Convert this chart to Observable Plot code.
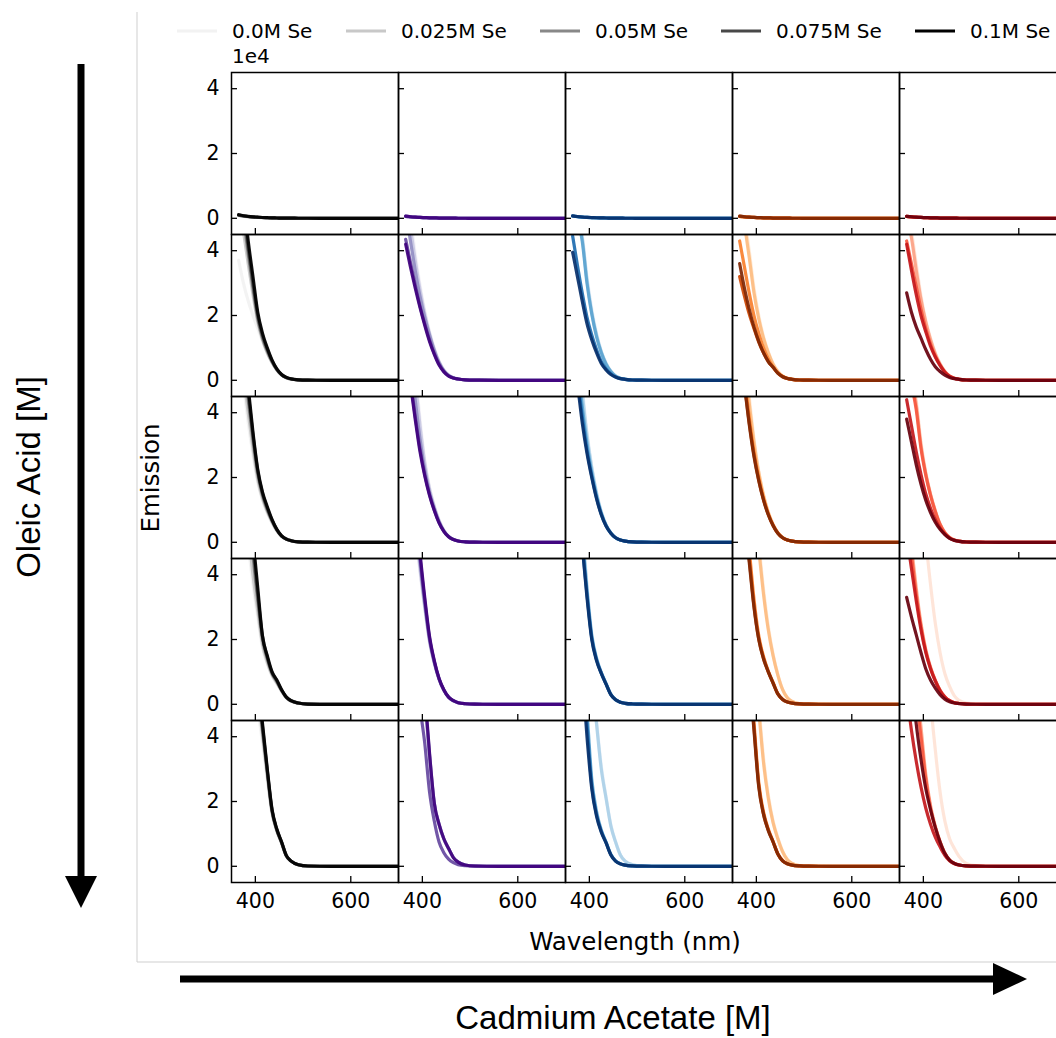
<!DOCTYPE html>
<html>
<head>
<meta charset="utf-8">
<script src="https://cdn.jsdelivr.net/npm/d3@7"></script>
<script src="https://cdn.jsdelivr.net/npm/@observablehq/plot@0.6"></script>
<style>
  html, body { margin: 0; padding: 0; background: #fff; overflow: hidden; }
  #page { position: relative; width: 1056px; height: 1038px; overflow: hidden; font-family: "DejaVu Sans", sans-serif; color: #000; }
  #page > * { position: absolute; }
  .lbl { white-space: nowrap; line-height: 1; }
  .rot { transform: translate(-50%, -50%) rotate(-90deg); }
  .ctr { transform: translate(-50%, -50%); }
  .leg { display: flex; align-items: center; font-size: 20px; white-space: nowrap; }
</style>
</head>
<body>
<div id="page"></div>
<script>
// ---------------- data ----------------
const wavelength = [365, 375, 385, 395, 405, 415, 425, 435, 445, 455, 465, 475, 490, 510, 560, 700];
const seLevels = ["0.0M Se", "0.025M Se", "0.05M Se", "0.075M Se", "0.1M Se"];
const cadmiumAcetate = ["Cd 1", "Cd 2", "Cd 3", "Cd 4", "Cd 5"];
const oleicAcid = ["OA 1", "OA 2", "OA 3", "OA 4", "OA 5"];
const yTicks = [0, 2, 4];
const xTicks = [400, 600];

// Emission (units of 1e4); per row: [Cd column][Se level][wavelength]
const emissionOA1 = [
  [[0.08,0.06,0.045,0.035,0.027,0.02,0.015,0.011,0.008,0.006,0.004,0.003,0.002,0.001,0,0],
   [0.09,0.065,0.05,0.038,0.029,0.022,0.016,0.012,0.009,0.006,0.004,0.003,0.002,0.001,0,0],
   [0.1,0.07,0.053,0.04,0.03,0.023,0.017,0.012,0.009,0.006,0.004,0.003,0.002,0.001,0,0],
   [0.1,0.075,0.055,0.042,0.032,0.024,0.018,0.013,0.009,0.006,0.004,0.003,0.002,0.001,0,0],
   [0.11,0.08,0.06,0.045,0.034,0.025,0.018,0.013,0.009,0.006,0.004,0.003,0.002,0.001,0,0]],
  [[0.05,0.04,0.03,0.024,0.019,0.015,0.011,0.008,0.006,0.004,0.003,0.002,0.001,0,0,0],
   [0.055,0.042,0.032,0.025,0.02,0.015,0.011,0.008,0.006,0.004,0.003,0.002,0.001,0,0,0],
   [0.06,0.045,0.034,0.026,0.02,0.015,0.011,0.008,0.006,0.004,0.003,0.002,0.001,0,0,0],
   [0.06,0.046,0.035,0.027,0.021,0.016,0.012,0.008,0.006,0.004,0.003,0.002,0.001,0,0,0],
   [0.065,0.048,0.036,0.028,0.021,0.016,0.012,0.008,0.006,0.004,0.003,0.002,0.001,0,0,0]],
  [[0.06,0.045,0.034,0.026,0.02,0.015,0.011,0.008,0.006,0.004,0.003,0.002,0.001,0,0,0],
   [0.065,0.048,0.036,0.027,0.021,0.016,0.012,0.008,0.006,0.004,0.003,0.002,0.001,0,0,0],
   [0.07,0.05,0.038,0.028,0.022,0.016,0.012,0.009,0.006,0.004,0.003,0.002,0.001,0,0,0],
   [0.07,0.052,0.039,0.029,0.022,0.017,0.012,0.009,0.006,0.004,0.003,0.002,0.001,0,0,0],
   [0.075,0.055,0.04,0.03,0.023,0.017,0.012,0.009,0.006,0.004,0.003,0.002,0.001,0,0,0]],
  [[0.05,0.04,0.03,0.024,0.019,0.015,0.011,0.008,0.006,0.004,0.003,0.002,0.001,0,0,0],
   [0.055,0.042,0.032,0.025,0.02,0.015,0.011,0.008,0.006,0.004,0.003,0.002,0.001,0,0,0],
   [0.06,0.045,0.034,0.026,0.02,0.015,0.011,0.008,0.006,0.004,0.003,0.002,0.001,0,0,0],
   [0.06,0.046,0.035,0.027,0.021,0.016,0.012,0.008,0.006,0.004,0.003,0.002,0.001,0,0,0],
   [0.065,0.048,0.036,0.028,0.021,0.016,0.012,0.008,0.006,0.004,0.003,0.002,0.001,0,0,0]],
  [[0.05,0.04,0.03,0.024,0.019,0.015,0.011,0.008,0.006,0.004,0.003,0.002,0.001,0,0,0],
   [0.055,0.042,0.032,0.025,0.02,0.015,0.011,0.008,0.006,0.004,0.003,0.002,0.001,0,0,0],
   [0.058,0.044,0.033,0.026,0.02,0.015,0.011,0.008,0.006,0.004,0.003,0.002,0.001,0,0,0],
   [0.06,0.046,0.035,0.027,0.021,0.016,0.012,0.008,0.006,0.004,0.003,0.002,0.001,0,0,0],
   [0.062,0.047,0.035,0.027,0.021,0.016,0.012,0.008,0.006,0.004,0.003,0.002,0.001,0,0,0]]
];

const emissionOA2 = [
  [[3.7,3.0,2.45,2.0,1.6,1.2,0.85,0.55,0.33,0.18,0.09,0.045,0.015,0.004,0,0],
   [5.6,4.6,3.6,2.65,1.8,1.25,0.85,0.55,0.32,0.16,0.08,0.04,0.012,0.003,0,0],
   [6.2,5.0,3.9,2.85,1.9,1.3,0.9,0.57,0.33,0.17,0.08,0.04,0.013,0.003,0,0],
   [6.6,5.3,4.1,3.0,2.0,1.38,0.95,0.6,0.34,0.17,0.085,0.04,0.014,0.004,0,0],
   [7.0,5.6,4.3,3.2,2.1,1.45,1.0,0.62,0.35,0.18,0.09,0.045,0.015,0.004,0,0]],
  [[6.2,5.0,3.9,2.95,2.15,1.5,1.0,0.6,0.33,0.17,0.08,0.04,0.015,0.005,0,0],
   [5.8,4.7,3.7,2.8,2.05,1.45,0.95,0.57,0.31,0.16,0.08,0.04,0.015,0.005,0,0],
   [5.3,4.3,3.4,2.6,1.95,1.4,0.92,0.55,0.3,0.15,0.075,0.04,0.015,0.005,0,0],
   [4.35,3.65,2.95,2.3,1.75,1.25,0.83,0.5,0.28,0.14,0.07,0.04,0.015,0.005,0,0],
   [4.2,3.5,2.85,2.25,1.7,1.2,0.8,0.47,0.26,0.13,0.07,0.04,0.015,0.005,0,0]],
  [[6.2,5.3,4.5,3.2,2.2,1.45,0.9,0.53,0.28,0.13,0.06,0.03,0.01,0.003,0,0],
   [6.0,5.1,4.4,3.1,2.1,1.4,0.88,0.52,0.28,0.13,0.06,0.03,0.01,0.003,0,0],
   [5.8,5.0,4.3,3.0,2.05,1.35,0.85,0.5,0.27,0.13,0.06,0.03,0.01,0.003,0,0],
   [4.45,3.55,2.7,1.95,1.4,0.95,0.58,0.35,0.2,0.1,0.05,0.03,0.01,0.003,0,0],
   [3.95,3.2,2.45,1.75,1.25,0.85,0.52,0.32,0.18,0.1,0.05,0.03,0.01,0.003,0,0]],
  [[5.8,5.0,4.0,2.85,2.0,1.35,0.88,0.52,0.28,0.13,0.06,0.03,0.01,0.003,0,0],
   [5.6,4.8,3.8,2.7,1.9,1.3,0.85,0.5,0.27,0.13,0.06,0.03,0.01,0.003,0,0],
   [4.3,3.5,2.7,2.0,1.45,1.0,0.66,0.42,0.23,0.12,0.06,0.03,0.01,0.003,0,0],
   [3.2,2.6,2.05,1.6,1.18,0.85,0.58,0.4,0.22,0.11,0.055,0.03,0.01,0.003,0,0],
   [3.6,2.85,2.2,1.65,1.2,0.85,0.58,0.4,0.22,0.11,0.055,0.03,0.01,0.003,0,0]],
  [[5.4,4.6,3.6,2.6,1.85,1.3,0.85,0.52,0.28,0.13,0.06,0.03,0.01,0.003,0,0],
   [5.0,4.4,3.4,2.5,1.8,1.25,0.82,0.5,0.27,0.13,0.06,0.03,0.01,0.003,0,0],
   [4.3,3.6,2.9,2.2,1.6,1.12,0.75,0.47,0.26,0.13,0.06,0.03,0.01,0.003,0,0],
   [4.2,3.4,2.65,2.0,1.5,1.05,0.72,0.46,0.25,0.12,0.06,0.03,0.01,0.003,0,0],
   [2.7,2.1,1.65,1.3,0.95,0.65,0.42,0.27,0.16,0.09,0.05,0.03,0.01,0.003,0,0]]
];

const emissionOA3 = [
  [[6.2,4.9,3.7,2.7,1.85,1.3,0.9,0.6,0.35,0.18,0.09,0.045,0.015,0.004,0,0],
   [6.6,5.2,4.0,2.9,1.95,1.35,0.95,0.62,0.36,0.18,0.09,0.045,0.015,0.004,0,0],
   [7.2,5.7,4.4,3.15,2.1,1.45,1.0,0.66,0.38,0.19,0.1,0.05,0.015,0.004,0,0],
   [7.6,6.0,4.6,3.3,2.2,1.5,1.05,0.68,0.39,0.2,0.1,0.05,0.015,0.004,0,0],
   [8.0,6.2,4.8,3.4,2.25,1.55,1.1,0.7,0.4,0.2,0.1,0.05,0.015,0.004,0,0]],
  [[8.5,6.8,5.3,3.8,2.55,1.7,1.12,0.68,0.37,0.18,0.09,0.04,0.015,0.004,0,0],
   [8.0,6.4,5.0,3.6,2.45,1.65,1.1,0.67,0.37,0.18,0.09,0.04,0.015,0.004,0,0],
   [7.0,5.6,4.4,3.2,2.25,1.55,1.05,0.64,0.35,0.18,0.09,0.04,0.015,0.004,0,0],
   [6.2,5.0,3.9,2.9,2.1,1.48,1.0,0.61,0.34,0.17,0.085,0.04,0.015,0.004,0,0],
   [6.0,4.9,3.8,2.8,2.05,1.45,0.98,0.6,0.34,0.17,0.085,0.04,0.015,0.004,0,0]],
  [[7.6,6.2,4.8,3.4,2.35,1.55,0.95,0.55,0.3,0.15,0.07,0.035,0.012,0.003,0,0],
   [7.4,6.0,4.6,3.3,2.3,1.52,0.93,0.54,0.29,0.14,0.07,0.035,0.012,0.003,0,0],
   [6.8,5.5,4.2,3.05,2.15,1.45,0.9,0.52,0.29,0.14,0.07,0.035,0.012,0.003,0,0],
   [6.3,5.1,3.9,2.85,2.05,1.38,0.87,0.51,0.28,0.14,0.07,0.035,0.012,0.003,0,0],
   [6.0,4.9,3.7,2.75,2.0,1.35,0.85,0.5,0.28,0.14,0.07,0.035,0.012,0.003,0,0]],
  [[7.5,6.0,4.5,3.2,2.2,1.48,0.94,0.56,0.3,0.15,0.07,0.035,0.012,0.003,0,0],
   [7.2,5.7,4.3,3.1,2.15,1.45,0.92,0.55,0.3,0.15,0.07,0.035,0.012,0.003,0,0],
   [6.4,5.1,3.85,2.8,2.0,1.36,0.88,0.53,0.29,0.14,0.07,0.035,0.012,0.003,0,0],
   [6.1,4.9,3.7,2.7,1.92,1.32,0.86,0.52,0.28,0.14,0.07,0.035,0.012,0.003,0,0],
   [6.0,4.85,3.65,2.65,1.9,1.3,0.85,0.52,0.28,0.14,0.07,0.035,0.012,0.003,0,0]],
  [[6.3,5.3,4.4,3.1,2.18,1.5,0.98,0.57,0.31,0.15,0.07,0.035,0.012,0.003,0,0],
   [6.0,5.1,4.25,3.0,2.12,1.48,0.97,0.56,0.3,0.15,0.07,0.035,0.012,0.003,0,0],
   [5.8,4.9,4.1,2.9,2.08,1.45,0.95,0.55,0.3,0.15,0.07,0.035,0.012,0.003,0,0],
   [4.4,3.6,2.8,2.1,1.5,1.05,0.7,0.44,0.25,0.13,0.06,0.03,0.01,0.003,0,0],
   [3.8,3.1,2.4,1.8,1.3,0.92,0.62,0.4,0.24,0.12,0.06,0.03,0.01,0.003,0,0]]
];

const emissionOA4 = [
  [[9.0,6.8,5.0,3.7,2.7,1.75,1.25,0.87,0.64,0.4,0.2,0.1,0.035,0.008,0,0],
   [10,7.5,5.5,4.0,2.9,1.85,1.3,0.9,0.66,0.41,0.2,0.1,0.035,0.008,0,0],
   [12,8.8,6.3,4.6,3.2,2.0,1.4,0.95,0.7,0.43,0.21,0.1,0.04,0.008,0,0],
   [13,9.5,6.8,4.9,3.4,2.1,1.45,0.98,0.73,0.44,0.22,0.11,0.04,0.008,0,0],
   [14,10,7.2,5.2,3.6,2.1,1.5,1.0,0.75,0.45,0.22,0.11,0.04,0.008,0,0]],
  [[10,7.5,5.5,4.1,2.95,1.9,1.25,0.76,0.43,0.21,0.1,0.05,0.017,0.004,0,0],
   [10.5,7.8,5.7,4.2,3.0,1.95,1.27,0.77,0.43,0.21,0.1,0.05,0.017,0.004,0,0],
   [11,8.2,6.0,4.4,3.1,2.0,1.3,0.78,0.44,0.22,0.11,0.05,0.017,0.004,0,0],
   [11.5,8.5,6.2,4.55,3.2,2.05,1.32,0.79,0.44,0.22,0.11,0.05,0.017,0.004,0,0],
   [12,8.8,6.4,4.7,3.3,2.1,1.35,0.8,0.45,0.22,0.11,0.05,0.017,0.004,0,0]],
  [[10.3,7.7,5.6,3.7,2.2,1.45,1.0,0.65,0.32,0.15,0.07,0.03,0.01,0.003,0,0],
   [10,7.5,5.4,3.6,2.15,1.43,0.98,0.64,0.31,0.14,0.065,0.03,0.01,0.003,0,0],
   [9.6,7.2,5.2,3.5,2.1,1.4,0.97,0.63,0.31,0.14,0.065,0.03,0.01,0.003,0,0],
   [9.3,7.0,5.0,3.4,2.05,1.38,0.96,0.63,0.3,0.14,0.065,0.03,0.01,0.003,0,0],
   [9.0,6.8,4.9,3.3,2.0,1.35,0.95,0.62,0.3,0.14,0.065,0.03,0.01,0.003,0,0]],
  [[19,13,9.0,6.5,5.0,3.55,2.4,1.55,0.92,0.46,0.2,0.09,0.025,0.005,0,0],
   [18,12,8.5,6.2,4.8,3.4,2.3,1.5,0.9,0.45,0.2,0.09,0.025,0.005,0,0],
   [8.2,6.3,4.8,3.25,2.12,1.48,1.03,0.68,0.33,0.16,0.075,0.035,0.012,0.003,0,0],
   [7.6,5.9,4.5,3.05,2.02,1.42,1.0,0.66,0.32,0.15,0.07,0.035,0.012,0.003,0,0],
   [7.4,5.8,4.4,3.0,2.0,1.4,1.0,0.65,0.32,0.15,0.07,0.035,0.012,0.003,0,0]],
  [[20,14,9.5,6.8,5.1,3.7,2.5,1.6,0.95,0.55,0.26,0.12,0.035,0.008,0,0],
   [6.2,4.9,3.6,2.5,1.7,1.15,0.75,0.44,0.23,0.11,0.05,0.025,0.008,0.002,0,0],
   [5.8,4.6,3.4,2.4,1.65,1.12,0.73,0.43,0.23,0.11,0.05,0.025,0.008,0.002,0,0],
   [5.2,4.2,3.2,2.3,1.6,1.1,0.72,0.42,0.22,0.11,0.05,0.025,0.008,0.002,0,0],
   [3.3,2.7,2.15,1.6,1.1,0.75,0.5,0.3,0.16,0.08,0.04,0.02,0.007,0.002,0,0]]
];

const emissionOA5 = [
  [[25,16,10.5,7.2,5.0,3.8,2.65,1.6,1.07,0.7,0.31,0.15,0.05,0.01,0,0],
   [27,17,11.5,7.7,5.4,4.05,2.8,1.66,1.1,0.72,0.32,0.16,0.05,0.01,0,0],
   [28,18,12,8.0,5.6,4.2,2.9,1.7,1.12,0.73,0.32,0.16,0.05,0.01,0,0],
   [29,19,12.5,8.2,5.8,4.3,2.95,1.72,1.13,0.74,0.33,0.16,0.05,0.01,0,0],
   [30,20,13,8.5,6.0,4.4,3.0,1.75,1.15,0.75,0.33,0.16,0.05,0.01,0,0]],
  [[22,14.5,9.8,6.8,5.1,3.35,1.9,1.27,0.83,0.54,0.27,0.13,0.04,0.01,0,0],
   [23,15,10,6.9,5.2,3.4,1.93,1.28,0.84,0.54,0.27,0.13,0.04,0.01,0,0],
   [24,15.5,10.2,7.0,5.25,3.45,1.95,1.3,0.85,0.55,0.27,0.13,0.04,0.01,0,0],
   [14,10,7.0,5.0,3.8,2.3,1.4,0.75,0.42,0.22,0.11,0.05,0.017,0.004,0,0],
   [25,16,10.5,7.2,5.4,3.5,1.95,1.3,0.85,0.55,0.27,0.13,0.04,0.01,0,0]],
  [[31,21,12.5,8.3,6.1,4.5,3.1,2.15,1.28,0.76,0.35,0.16,0.05,0.01,0,0],
   [30,20,12,8.0,5.9,4.4,3.0,2.1,1.25,0.75,0.35,0.16,0.05,0.01,0,0],
   [12.5,9.2,6.7,4.8,2.7,1.7,1.12,0.75,0.37,0.17,0.08,0.035,0.012,0.003,0,0],
   [11.5,8.5,6.2,4.4,2.5,1.6,1.08,0.73,0.36,0.16,0.075,0.035,0.012,0.003,0,0],
   [11,8.2,6.0,4.0,2.4,1.55,1.05,0.72,0.35,0.16,0.075,0.035,0.012,0.003,0,0]],
  [[19,13,9.0,6.5,5.0,3.35,2.2,1.4,0.88,0.47,0.21,0.09,0.025,0.005,0,0],
   [18,12,8.5,6.2,4.8,3.2,2.1,1.35,0.85,0.45,0.2,0.09,0.025,0.005,0,0],
   [12,8.8,6.4,4.45,2.6,1.68,1.15,0.77,0.39,0.18,0.08,0.035,0.012,0.003,0,0],
   [11.5,8.5,6.2,4.3,2.5,1.62,1.12,0.76,0.38,0.17,0.08,0.035,0.012,0.003,0,0],
   [11,8.2,6.0,4.2,2.45,1.6,1.1,0.75,0.38,0.17,0.08,0.035,0.012,0.003,0,0]],
  [[40,28,18,12,8.0,5.2,3.6,2.3,1.4,0.85,0.55,0.3,0.09,0.02,0,0],
   [11,7.8,5.7,4.3,2.85,1.88,1.25,0.77,0.41,0.19,0.09,0.04,0.013,0.003,0,0],
   [10,7.2,5.3,4.0,2.7,1.8,1.2,0.75,0.4,0.19,0.09,0.04,0.013,0.003,0,0],
   [5.3,4.2,3.25,2.45,1.8,1.3,0.9,0.6,0.34,0.17,0.08,0.04,0.013,0.003,0,0],
   [7.5,5.8,4.4,3.3,2.4,1.75,1.2,0.75,0.4,0.19,0.09,0.04,0.013,0.003,0,0]]
];

const emissionRows = [emissionOA1, emissionOA2, emissionOA3, emissionOA4, emissionOA5];

// colour maps per Cd column, sampled at the Se levels
const colormaps = [d3.interpolateGreys, d3.interpolatePurples, d3.interpolateBlues, d3.interpolateOranges, d3.interpolateReds];
const seShade = [0.1, 0.325, 0.55, 0.775, 1.0];

// ---------------- build table ----------------
const rows = [];
emissionRows.forEach((row, r) => {
  row.forEach((col, c) => {
    col.forEach((series, s) => {
      series.forEach((v, i) => {
        rows.push({
          oa: oleicAcid[r], cd: cadmiumAcetate[c], se: seLevels[s],
          key: `${r}-${c}-${s}`, w: wavelength[i], v,
          color: colormaps[c](seShade[s])
        });
      });
    });
  });
});

const blankFormat = () => "";

const chart = Plot.plot({
  width: 1072,
  height: 1038,
  marginLeft: 231,
  marginTop: 70,
  marginRight: 6,
  marginBottom: 155,
  style: { fontFamily: "DejaVu Sans", fontSize: "20.5px", color: "#000", background: "transparent", overflow: "visible", maxWidth: "none" },
  x: { domain: [350, 700] },
  y: { domain: [-0.5, 4.5] },
  fx: { domain: cadmiumAcetate, padding: 0, axis: null },
  fy: { domain: oleicAcid, padding: 0, axis: null },
  color: { type: "identity" },
  marks: [
    Plot.line(rows, {
      x: "w", y: "v", z: "key", stroke: "color", fx: "cd", fy: "oa",
      curve: "monotone-x", strokeWidth: 3.2, strokeOpacity: 0.92, clip: true
    }),
    Plot.axisY({ ticks: yTicks, tickSize: -6, tickFormat: blankFormat, facetAnchor: null, label: null, strokeWidth: 1.3 }),
    Plot.axisX({ ticks: xTicks, tickSize: -6, tickFormat: blankFormat, facetAnchor: null, label: null, strokeWidth: 1.3 }),
    Plot.axisY({ ticks: yTicks, tickSize: 0, tickPadding: 12, tickFormat: d => String(d), label: null }),
    Plot.axisX({ ticks: xTicks, tickSize: 0, tickPadding: 11, tickFormat: d => String(d), label: null }),
    Plot.frame({ stroke: "#000", strokeWidth: 1.5 })
  ]
});

// ---------------- page assembly ----------------
const page = document.getElementById("page");

// decorations: grey outer axes, big arrows
const ns = "http://www.w3.org/2000/svg";
const deco = document.createElementNS(ns, "svg");
deco.setAttribute("width", 1056);
deco.setAttribute("height", 1038);
deco.style.left = "0px"; deco.style.top = "0px";
deco.innerHTML = `
  <line x1="137" y1="12" x2="137" y2="962" stroke="#cfcfcf" stroke-width="1"/>
  <line x1="137" y1="962" x2="1056" y2="962" stroke="#cfcfcf" stroke-width="1"/>
  <line x1="81" y1="64" x2="81" y2="878" stroke="#000" stroke-width="7"/>
  <polygon points="65,876 97,876 81,908" fill="#000"/>
  <line x1="180" y1="979" x2="995" y2="979" stroke="#000" stroke-width="7"/>
  <polygon points="993,963 993,995 1027,979" fill="#000"/>`;
page.appendChild(deco);

chart.style.left = "0px";
chart.style.top = "0px";
chart.style.maxWidth = "none";
page.appendChild(chart);

function addText(txt, x, y, cls, style) {
  const d = document.createElement("div");
  d.className = "lbl " + cls;
  d.textContent = txt;
  d.style.left = x + "px";
  d.style.top = y + "px";
  Object.assign(d.style, style || {});
  page.appendChild(d);
}

addText("1e4", 232, 46, "", { fontSize: "20px" });
addText("Emission", 151, 478, "rot", { fontSize: "24.5px" });
addText("Wavelength (nm)", 635, 942, "ctr", { fontSize: "24.5px" });
addText("Oleic Acid [M]", 28, 477, "rot", { fontSize: "33px", fontFamily: "'Liberation Sans', Arial, sans-serif" });
addText("Cadmium Acetate [M]", 613, 1017, "ctr", { fontSize: "33px", fontFamily: "'Liberation Sans', Arial, sans-serif" });

// legend (Se levels, grey shades)
const legendX = [176, 345, 539, 720, 914];
seLevels.forEach((lab, s) => {
  const item = document.createElement("div");
  item.className = "leg";
  item.style.left = legendX[s] + "px";
  item.style.top = "19px";
  item.style.height = "24px";
  const sw = document.createElementNS(ns, "svg");
  sw.setAttribute("width", 42);
  sw.setAttribute("height", 24);
  sw.innerHTML = `<line x1="1" y1="12" x2="41" y2="12" stroke="${d3.interpolateGreys(seShade[s])}" stroke-width="3"/>`;
  const t = document.createElement("span");
  t.textContent = lab;
  t.style.marginLeft = "14px";
  item.appendChild(sw);
  item.appendChild(t);
  page.appendChild(item);
});
</script>
</body>
</html>
